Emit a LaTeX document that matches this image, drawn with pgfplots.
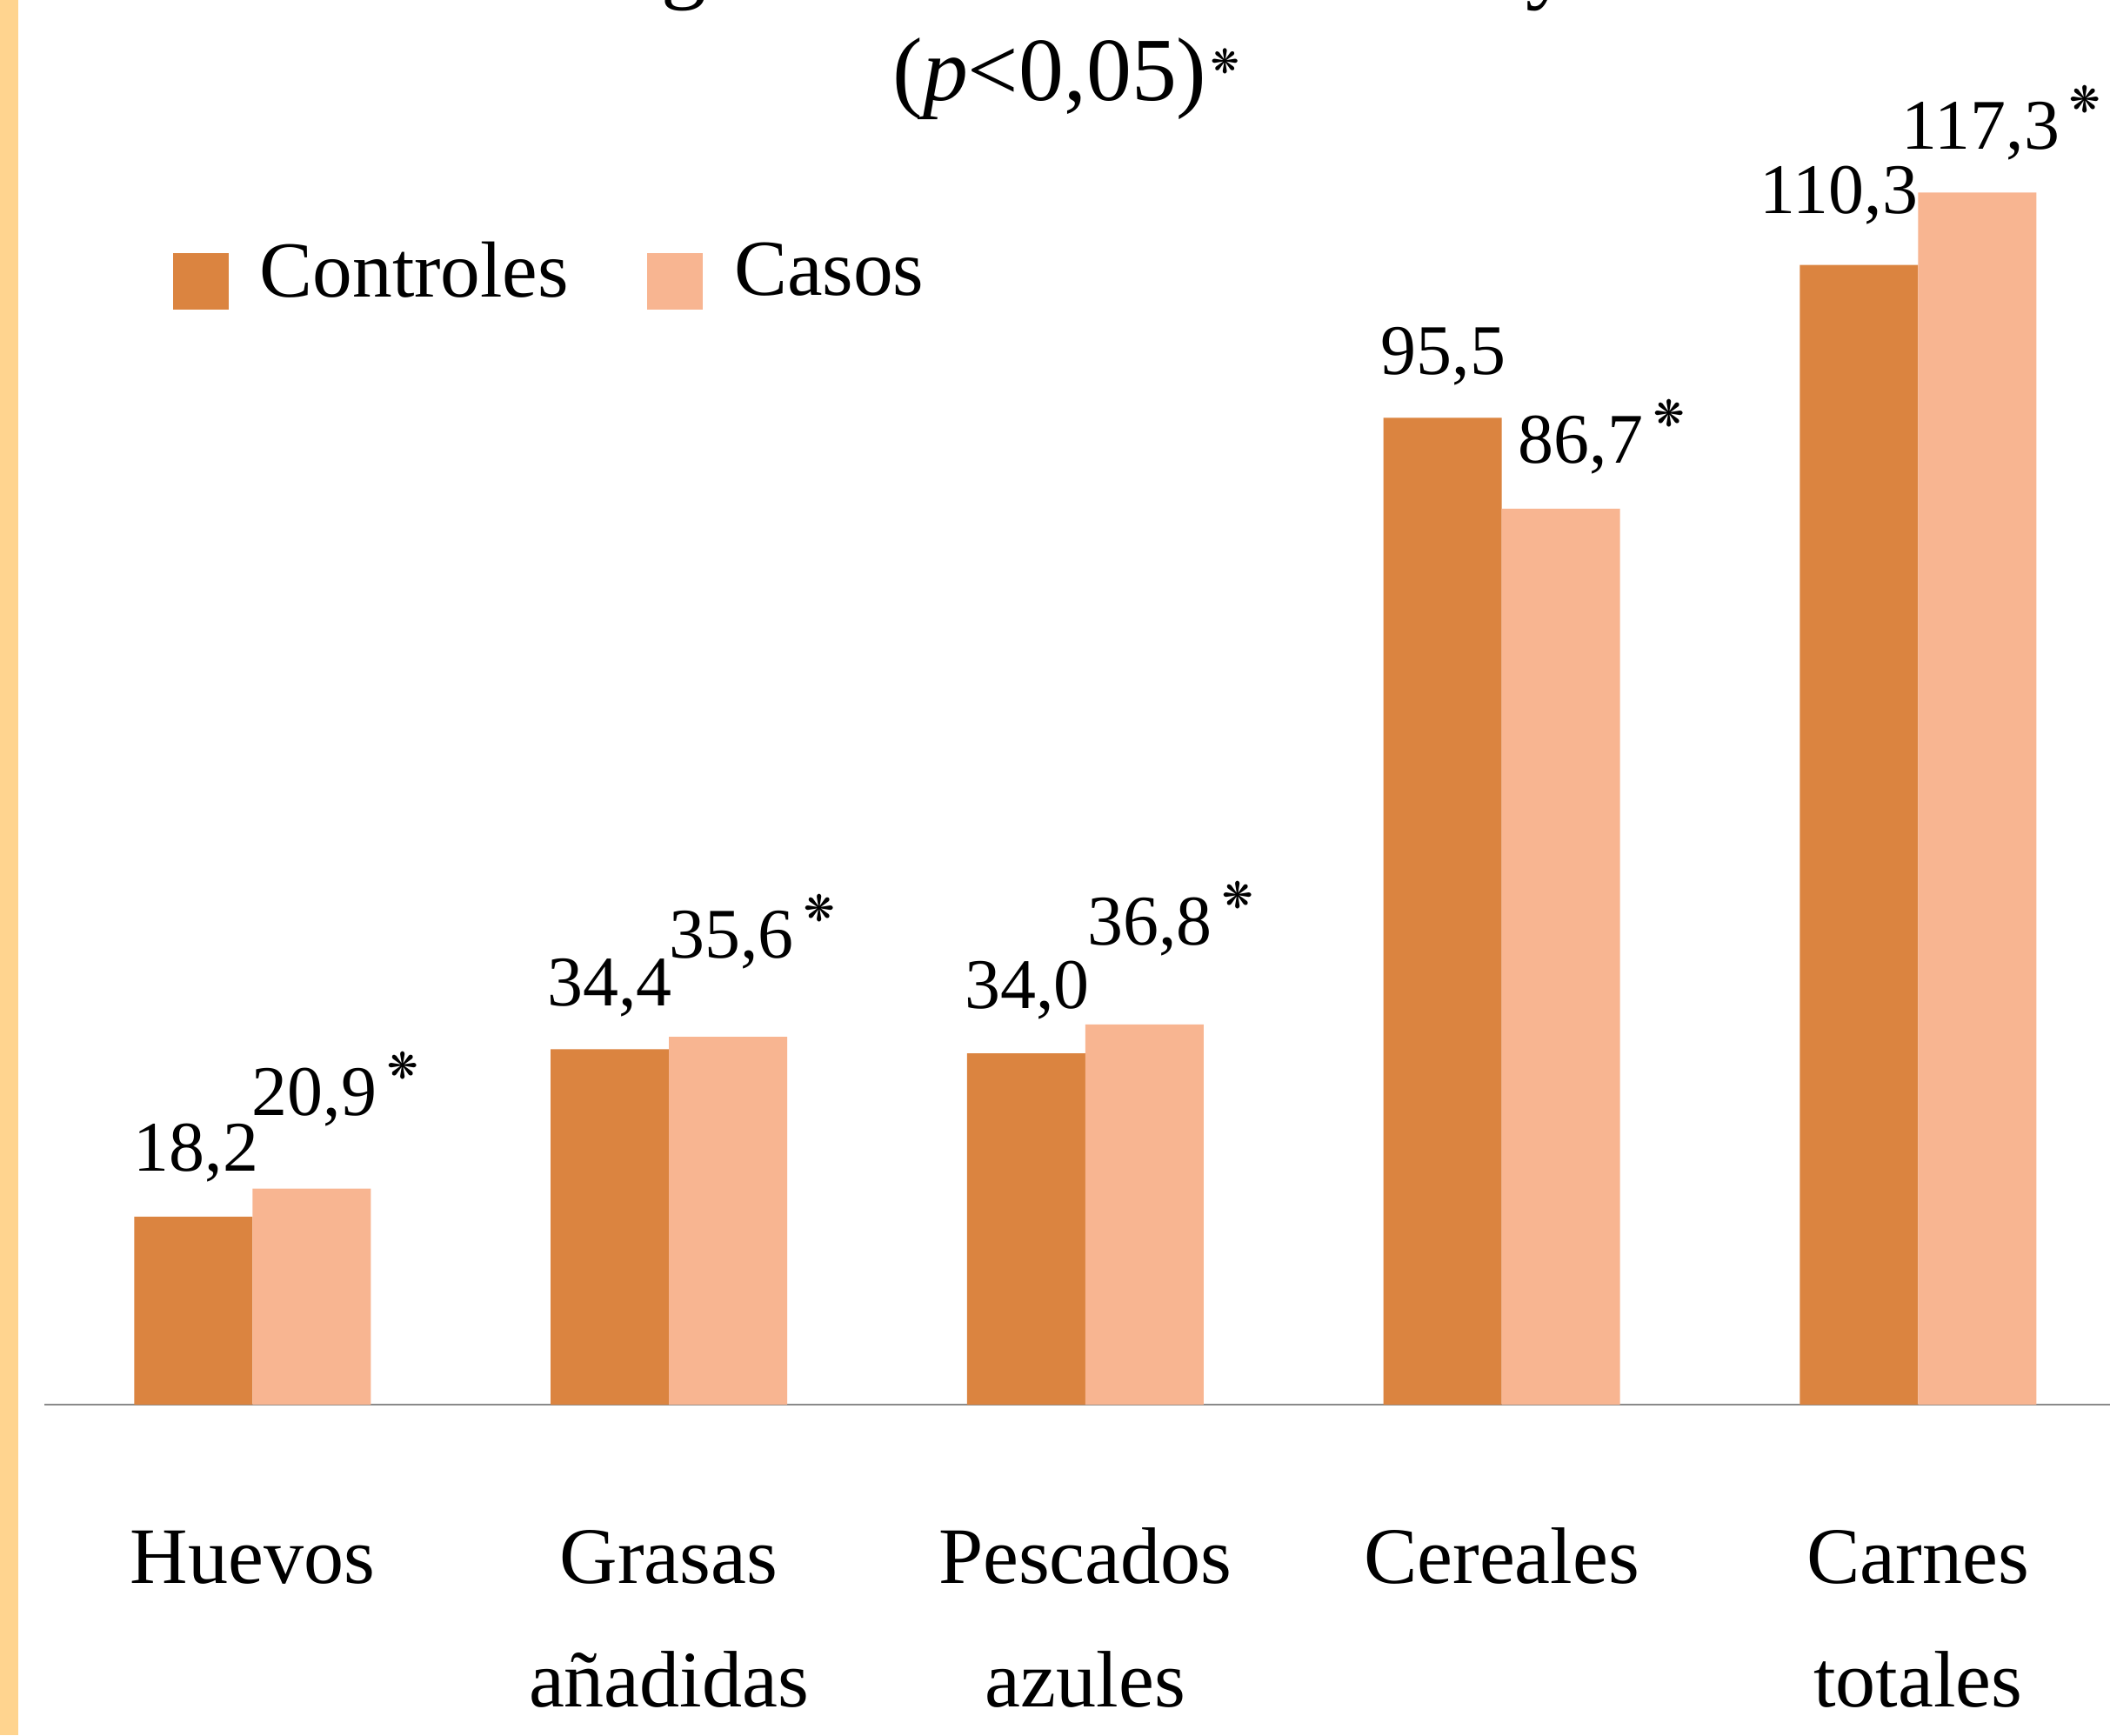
\documentclass[border=0pt]{standalone}
\usepackage{fontspec}
\setmainfont{Liberation Serif}
\newfontfamily\djv{DejaVu Sans}
\usepackage{pgfplots}
\pgfplotsset{compat=1.18}
\usepackage{pgfplotstable}
\definecolor{ctrl}{RGB}{219,132,64}
\definecolor{cas}{RGB}{248,181,145}
\definecolor{stripe}{RGB}{255,212,143}
\definecolor{axgray}{RGB}{138,138,138}
\protected\def\sigmark{\rlap{\hspace{0.12cm}\raisebox{0.42cm}{\djv\fontsize{12}{12}\selectfont ❋}}}

\pgfplotstableread{
x ctrl cas sctrl scas dyc dya dxc dxa
0 18.2 20.9 0 1 52 84 3 3
1 34.4 35.6 0 1 50 91 0 4
2 34.0 36.8 0 1 52 91 1 6
3 95.5 86.7 0 1 50 53 1 23
4 110.3 117.3 0 1 59 50 -23 4
}\datatable

\begin{document}
\begin{tikzpicture}
\useasboundingbox (0,0) rectangle (24.26,19.95);
\clip (0,0) rectangle (24.26,19.95);
\fill[white] (0,0) rectangle (24.26,19.95);
\fill[stripe] (0,0) rectangle (0.21,19.95);
\node[anchor=base, inner sep=0pt, font=\fontsize{29.5}{35}\selectfont] at (12.00,20.04) {Diferencias significativas entre casos y controles};
\node[anchor=base, inner sep=0pt, font=\fontsize{29.5}{35}\selectfont] at (12.07,18.79) {(\textit{p}<0,05)\rlap{\hspace{0.05cm}\raisebox{0.31cm}{\djv\fontsize{11}{11}\selectfont ❋}}};
\begin{axis}[
  at={(0.51cm,3.80cm)}, anchor=south west,
  scale only axis, width=23.75cm, height=15.444cm,
  xmin=-0.5, xmax=4.461, ymin=0, ymax=130,
  ybar=0pt, bar width=1.36cm,
  axis x line*=bottom, axis y line=none,
  x axis line style={axgray, line width=0.02cm, -},
  xtick={0,...,4},
  xticklabels={{Huevos\\\mbox{}},{Grasas\\añadidas},{Pescados\\azules},{Cereales\\\mbox{}},{Carnes\\totales}},
  major tick length=0pt,
  xticklabel style={align=center, anchor=base, yshift=-3.47cm, font=\fontsize{26.2}{40.4}\selectfont},
  ytick=\empty,
  clip=false,
  /pgf/number format/fixed, /pgf/number format/zerofill,
  /pgf/number format/precision=1, /pgf/number format/use comma,
  /pgf/number format/assume math mode=true,
  legend columns=2,
  legend style={draw=none, fill=none, inner sep=0pt,
    at={(axis description cs:0.0619,0.8664)}, anchor=north west,
    font=\fontsize{26}{31}\selectfont, nodes={inner sep=0pt},
    /tikz/every even column/.append style={column sep=0.9cm},
    /tikz/every odd column/.append style={column sep=0.36cm}},
]
\addplot[draw=none, fill=ctrl,
  legend image code/.code={\fill[ctrl] (0cm,-0.18cm) rectangle (0.64cm,0.47cm);},
  visualization depends on={\thisrow{sctrl} \as \sig},
  visualization depends on={\thisrow{dyc} \as \dy},
  visualization depends on={\thisrow{dxc} \as \dx},
  nodes near coords={\pgfmathprintnumber{\pgfplotspointmeta}\ifdim\sig pt>0.5pt \sigmark\fi},
  nodes near coords style={anchor=base, inner sep=0pt, xshift=\dx*0.01cm, yshift=\dy*0.01cm, font=\fontsize{23.3}{28}\selectfont, text=black},
] table[x=x, y=ctrl] {\datatable};
\addplot[draw=none, fill=cas,
  legend image code/.code={\fill[cas] (0cm,-0.18cm) rectangle (0.64cm,0.47cm);},
  visualization depends on={\thisrow{scas} \as \sig},
  visualization depends on={\thisrow{dya} \as \dy},
  visualization depends on={\thisrow{dxa} \as \dx},
  nodes near coords={\pgfmathprintnumber{\pgfplotspointmeta}\ifdim\sig pt>0.5pt \sigmark\fi},
  nodes near coords style={anchor=base, inner sep=0pt, xshift=\dx*0.01cm, yshift=\dy*0.01cm, font=\fontsize{23.3}{28}\selectfont, text=black},
] table[x=x, y=cas] {\datatable};
\legend{\raisebox{0.53cm}{Controles}, \raisebox{0.53cm}{Casos}}
\end{axis}
\end{tikzpicture}
\end{document}
